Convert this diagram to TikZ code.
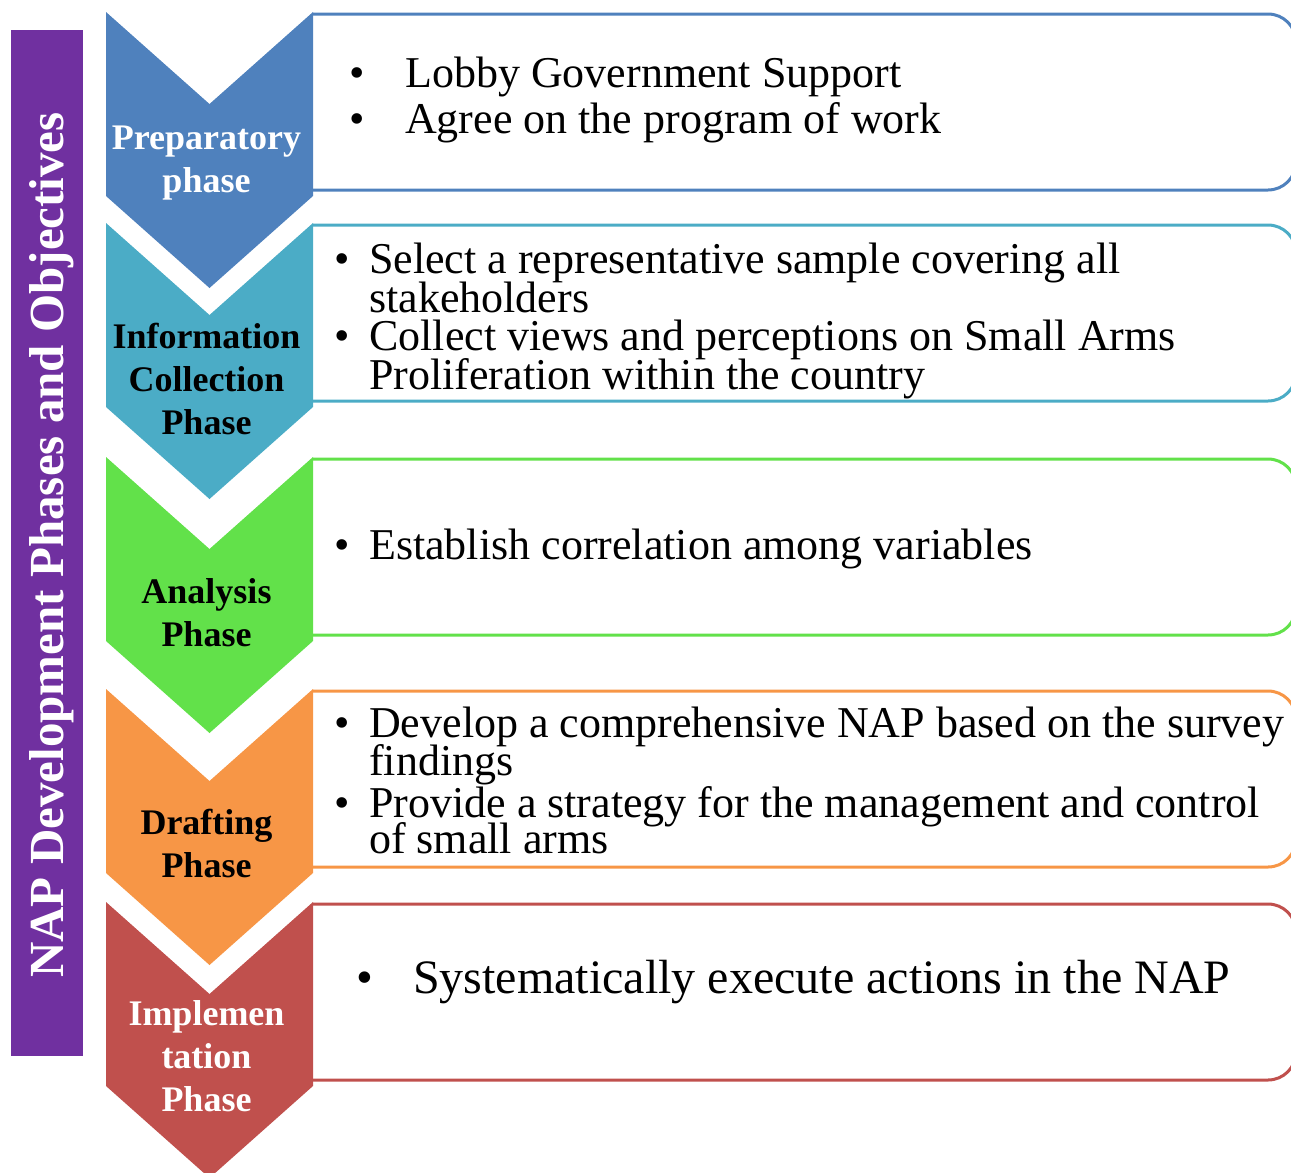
\documentclass[tikz,border=0pt]{standalone}
\usepackage{fontspec}
\setmainfont{Liberation Serif}
\usepackage{xcolor}

\definecolor{prepblue}{HTML}{4F81BD}
\definecolor{infoteal}{HTML}{4BACC6}
\definecolor{anagreen}{HTML}{62E14A}
\definecolor{draftorange}{HTML}{F79646}
\definecolor{implred}{HTML}{C0504D}
\definecolor{barpurple}{HTML}{7030A0}

\begin{document}
\begin{tikzpicture}[
  x=1pt, y=-1pt,
  phase/.style={font=\bfseries\fontsize{36}{43}\selectfont, align=center,
                anchor=north, inner sep=0pt, text=#1},
  item/.style={font=\fontsize{44}{40}\selectfont, anchor=base west, inner sep=0pt},
  dot/.style={font=\fontsize{44}{40}\selectfont, anchor=base, inner sep=0pt},
  goalbox/.style={draw=#1, line width=3pt, rounded corners=28pt},
]
  \useasboundingbox (0,0) rectangle (1291,1173);

  % side bar with the title
  \fill[barpurple] (11,30) rectangle (83,1056);
  \node[rotate=90, anchor=base, inner sep=0pt, text=white,
        font=\bfseries\fontsize{49}{49}\selectfont] (title) at (63,545)
        {NAP Development Phases and Objectives};

  % objective boxes and chevrons
  \foreach \ytop/\col in {12/prepblue, 223/infoteal, 457/anagreen,
                          689/draftorange, 902/implred} {
    \draw[goalbox=\col] (313,\ytop+2) -- (1296,\ytop+2) -- (1296,\ytop+178) -- (313,\ytop+178);
    \fill[\col] (106,\ytop) -- (209.5,\ytop+92) -- (313,\ytop) -- (313,\ytop+184)
                -- (209.5,\ytop+276) -- (106,\ytop+184) -- cycle;
  }

  % phase names
  \node[phase=white] (prep) at (206.5,125.5) {Preparatory\\phase};
  \node[phase=black] (info) at (206.5,322.5) {Information\\Collection\\Phase};
  \node[phase=black] (ana) at (206.5,578.5) {Analysis\\Phase};
  \node[phase=black] (draft) at (206.5,808.5) {Drafting\\Phase};
  \node[phase=white] (impl) at (206.5,1000.5) {Implemen\\tation\\Phase};

  % objectives
  \node[dot] (d1a) at (357,87) {\textbullet};
  \node[item] (o1a) at (405,87) {Lobby Government Support};
  \node[dot] (d1b) at (357,133) {\textbullet};
  \node[item] (o1b) at (405,133) {Agree on the program of work};

  \node[dot] (d2a) at (342,273) {\textbullet};
  \node[item] (o2a) at (369,273) {Select a representative sample covering all};
  \node[item] (o2a2) at (369,312) {stakeholders};
  \node[dot] (d2b) at (342,350) {\textbullet};
  \node[item] (o2b) at (369,350) {Collect views and perceptions on Small Arms};
  \node[item] (o2b2) at (369,389) {Proliferation within the country};

  \node[dot] (d3a) at (342,559) {\textbullet};
  \node[item] (o3a) at (369,559) {Establish correlation among variables};

  \node[dot] (d4a) at (342,737) {\textbullet};
  \node[item] (o4a) at (369,737) {Develop a comprehensive NAP based on the survey};
  \node[item] (o4a2) at (369,775) {findings};
  \node[dot] (d4b) at (342,817) {\textbullet};
  \node[item] (o4b) at (369,817) {Provide a strategy for the management and control};
  \node[item] (o4b2) at (369,853) {of small arms};

  \node[dot, font=\fontsize{48}{48}\selectfont] (d5a) at (365,993) {\textbullet};
  \node[item, font=\fontsize{48}{48}\selectfont] (o5a) at (413,993)
    {Systematically execute actions in the NAP};
\end{tikzpicture}
\end{document}
